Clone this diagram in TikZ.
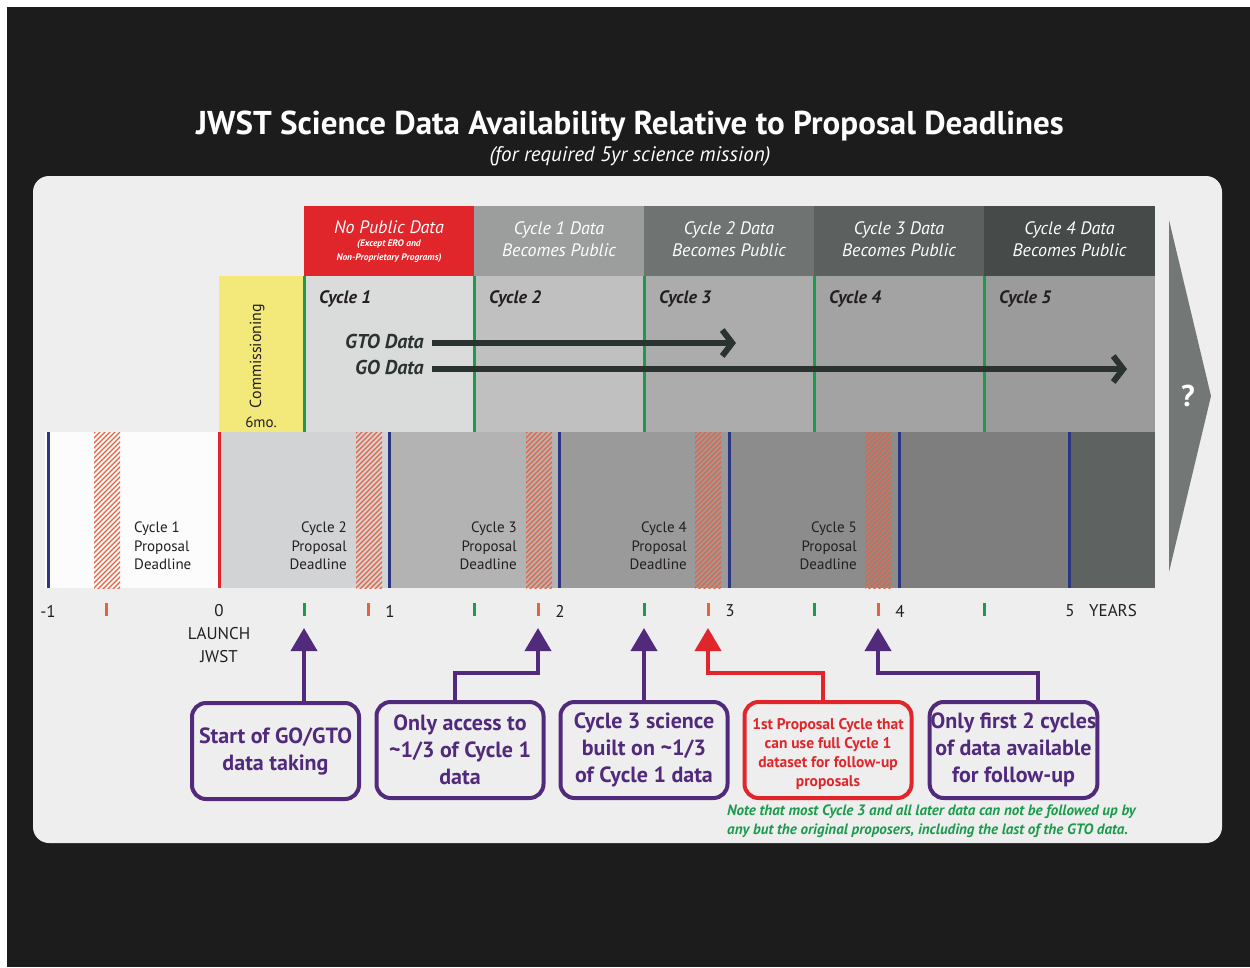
\documentclass[tikz,border=0pt]{standalone}
\usepackage{fontspec}
\setmainfont{PT Sans}
\usetikzlibrary{arrows.meta}

\definecolor{bgdark}{HTML}{1C1C1C}
\definecolor{panel}{HTML}{EEEEEE}
\definecolor{jred}{HTML}{E0262B}
\definecolor{jgreen}{HTML}{1B9B4C}
\definecolor{jblue}{HTML}{2B3580}
\definecolor{jpurple}{HTML}{512A7C}
\definecolor{hatch}{HTML}{E9603F}
\definecolor{comm}{HTML}{F3E97B}
\definecolor{ink}{HTML}{231F20}
\definecolor{arrowink}{HTML}{2B3330}
\definecolor{chev}{HTML}{737877}
% header cells
\definecolor{hA}{HTML}{9C9D9D}
\definecolor{hB}{HTML}{6F7472}
\definecolor{hC}{HTML}{5C6160}
\definecolor{hD}{HTML}{464B4A}
% cycle band
\definecolor{uA}{HTML}{DADBDB}
\definecolor{uB}{HTML}{C0C0C0}
\definecolor{uC}{HTML}{ACACAC}
\definecolor{uD}{HTML}{A3A3A3}
\definecolor{uE}{HTML}{9B9B9B}
% proposal band
\definecolor{lZ}{HTML}{FCFCFC}
\definecolor{lA}{HTML}{D1D3D4}
\definecolor{lB}{HTML}{B3B3B3}
\definecolor{lC}{HTML}{9A9A9A}
\definecolor{lD}{HTML}{8C8C8C}
\definecolor{lE}{HTML}{7E7E7E}
\definecolor{lF}{HTML}{5E6362}

\newcommand{\fs}[2]{\fontsize{#1}{#2}\selectfont}

\tikzset{
  hdrcell/.style={rectangle, inner sep=0pt, outer sep=0pt, minimum height=70pt,
    text depth=4pt, text=white, align=center, font=\itshape\fs{18}{22}},
  cyclelbl/.style={anchor=west, inner sep=0pt, text=ink, font=\bfseries\itshape\fs{18}{22}},
  datalbl/.style={anchor=east, inner sep=0pt, text=arrowink, font=\bfseries\itshape\fs{20}{22}},
  databar/.style={draw=arrowink, line width=6pt, -{Straight Barb[length=10pt,width=26pt]}},
  proplbl/.style={inner sep=0pt, text=ink, font=\fs{15}{18.5}},
  yearlbl/.style={inner sep=0pt, text=ink, font=\fs{17}{20}},
  tickmk/.style={line width=3pt},
  yearline/.style={line width=3pt},
  noteline/.style={draw=jpurple, line width=4pt,
    -{Triangle[length=23pt,width=26pt]}},
  notebox/.style={rectangle, rounded corners=14pt, draw=jpurple, line width=4pt,
    minimum width=167pt, minimum height=96pt, inner sep=1pt, align=center,
    text=jpurple, font=\bfseries\fs{22}{27}},
}

\begin{document}
\begin{tikzpicture}[x=1pt,y=-1pt]
\useasboundingbox (0,0) rectangle (1250,967);
\fill[white] (0,0) rectangle (1250,967);
\fill[bgdark] (7,7) rectangle (1250,967);
\fill[panel, rounded corners=16pt] (33,176) rectangle (1222,843);

% title
\node[text=white, font=\bfseries\fs{33}{40}] (title) at (630,126) {JWST Science Data Availability Relative to Proposal Deadlines};
\node[text=white, font=\itshape\fs{21}{24}] (subtitle) at (630,156) {(for required 5yr science mission)};

% ---------- header row: data release ----------
\node[hdrcell, fill=jred, minimum width=170pt] (h0) at (389,241) {};
\node[inner sep=0pt, text=white, font=\itshape\fs{18}{22}] (h0a) at (389,227) {No Public Data};
\node[inner sep=0pt, text=white, align=center, font=\bfseries\itshape\fs{9.5}{13.5}] (h0b) at (389,251) {(Except ERO and\\Non-Proprietary Programs)};
\node[hdrcell, fill=hA, minimum width=170pt] (h1) at (559,241) {Cycle 1 Data\\Becomes Public};
\node[hdrcell, fill=hB, minimum width=170pt] (h2) at (729,241) {Cycle 2 Data\\Becomes Public};
\node[hdrcell, fill=hC, minimum width=170pt] (h3) at (899,241) {Cycle 3 Data\\Becomes Public};
\node[hdrcell, fill=hD, minimum width=171pt] (h4) at (1069.5,241) {Cycle 4 Data\\Becomes Public};

% ---------- cycle row ----------
\fill[comm] (219,276) rectangle (304,432);
\fill[uA] (304,276) rectangle (474,432);
\fill[uB] (474,276) rectangle (644,432);
\fill[uC] (644,276) rectangle (814,432);
\fill[uD] (814,276) rectangle (984,432);
\fill[uE] (984,276) rectangle (1155,432);
\node[rotate=90, inner sep=0pt, text=ink, font=\fs{16}{18}] (comm) at (257,356) {Commissioning};
\node[inner sep=0pt, text=ink, font=\fs{15}{18}] (sixmo) at (261,422) {6mo.};
\foreach \x in {304,474,644,814,984}
  \draw[jgreen, line width=3pt] (\x,276) -- (\x,432);
\node[cyclelbl] (c1) at (319,299) {Cycle 1};
\node[cyclelbl] (c2) at (489,299) {Cycle 2};
\node[cyclelbl] (c3) at (659,299) {Cycle 3};
\node[cyclelbl] (c4) at (829,299) {Cycle 4};
\node[cyclelbl] (c5) at (999,299) {Cycle 5};

\node[datalbl] (gto) at (424,341) {GTO Data};
\node[datalbl] (go) at (424,367) {GO Data};
\coordinate (gtoend) at (736,343);
\coordinate (goend) at (1127,369);
\draw[databar] ([xshift=8pt]gto.east |- gtoend) -- (gtoend);
\draw[databar] ([xshift=8pt]go.east |- goend) -- (goend);

% ---------- proposal row ----------
\fill[lZ] (45,432) rectangle (219,588);
\fill[lA] (219,432) rectangle (389,588);
\fill[lB] (389,432) rectangle (559,588);
\fill[lC] (559,432) rectangle (729,588);
\fill[lD] (729,432) rectangle (899,588);
\fill[lE] (899,432) rectangle (1069,588);
\fill[lF] (1069,432) rectangle (1155,588);
% proposal windows (hatched)
\foreach \x in {94,356,526,695,865} {
  \begin{scope}
    \clip (\x,432) rectangle (\x+26,588);
    \foreach \k in {-30,-25,...,165}
      \draw[hatch, line width=1.3pt] (\x-40,628-\k) -- (\x+60,528-\k);
  \end{scope}
}
\foreach \x in {48,389,559,729,899,1069}
  \draw[jblue, yearline] (\x,432) -- (\x,588);
\draw[jred, yearline] (219,432) -- (219,588);

\node[proplbl, anchor=west, align=left] (p1) at (134,546) {Cycle 1\\Proposal\\Deadline};
\node[proplbl, anchor=east, align=right] (p2) at (347,546) {Cycle 2\\Proposal\\Deadline};
\node[proplbl, anchor=east, align=right] (p3) at (517,546) {Cycle 3\\Proposal\\Deadline};
\node[proplbl, anchor=east, align=right] (p4) at (687,546) {Cycle 4\\Proposal\\Deadline};
\node[proplbl, anchor=east, align=right] (p5) at (857,546) {Cycle 5\\Proposal\\Deadline};

% continuation chevron
\fill[chev] (1169,220) -- (1211,396) -- (1169,572) -- cycle;
\node[text=white, inner sep=0pt, font=\bfseries\fs{30}{32}] (more) at (1188,396) {?};

% ---------- year axis ----------
\node[yearlbl] (ym1) at (48,611) {-1};
\node[yearlbl] (y0) at (219,611) {0};
\node[yearlbl] (y1) at (390,611) {1};
\node[yearlbl] (y2) at (560,611) {2};
\node[yearlbl] (y3) at (730,611) {3};
\node[yearlbl] (y4) at (900,611) {4};
\node[yearlbl] (y5) at (1070,611) {5};
\node[yearlbl] (yrs) at (1113,611) {YEARS};
\node[yearlbl] (launch) at (219,634) {LAUNCH};
\node[yearlbl] (jwst) at (219,657) {JWST};
\foreach \x in {106,368,538,708,878}
  \draw[hatch, tickmk] (\x,603) -- (\x,616);
\foreach \x in {304,474,644,814,984}
  \draw[jgreen, tickmk] (\x,603) -- (\x,616);

% ---------- callouts ----------
\node[notebox] (b1) at (275.5,751) {Start of GO/GTO\\data taking};
\node[notebox] (b2) at (460,750) {Only access to\\\textasciitilde1/3 of Cycle 1\\data};
\node[notebox] (b3) at (644,750) {Cycle 3 science\\built on \textasciitilde1/3\\of Cycle 1 data};
\node[notebox, draw=jred] (b4) at (828,750) {};
\node[inner sep=0pt, align=center, text=jred, font=\bfseries\fs{15.5}{19.2}] (b4text) at (828,754) {1st Proposal Cycle that\\can use full Cycle 1\\dataset for follow-up\\proposals};
\node[notebox] (b5) at (1013.5,750) {Only first 2 cycles\\of data available\\for follow-up};

\coordinate (t1) at (304,628);
\coordinate (t2) at (538,628);
\coordinate (t3) at (644,628);
\coordinate (t4) at (708,628);
\coordinate (t5) at (878,628);
\coordinate (k2) at (538,673);
\coordinate (k4) at (708,673);
\coordinate (k5) at (878,673);

\draw[noteline] (b1.north -| t1) -- (t1);
\draw[noteline] ([xshift=-5pt]b2.north) |- (k2) -- (t2);
\draw[noteline] (b3.north) -- (t3);
\draw[noteline, draw=jred] ([xshift=-5pt]b4.north) |- (k4) -- (t4);
\draw[noteline] ([xshift=24.5pt]b5.north) |- (k5) -- (t5);

\node[anchor=north west, inner sep=0pt, align=left, text=jgreen, font=\bfseries\itshape\fs{15}{18.5}] (note) at (727,805)
  {Note that most Cycle 3 and all later data can not be followed up by\\any but the original proposers, including the last of the GTO data.};
\end{tikzpicture}
\end{document}
